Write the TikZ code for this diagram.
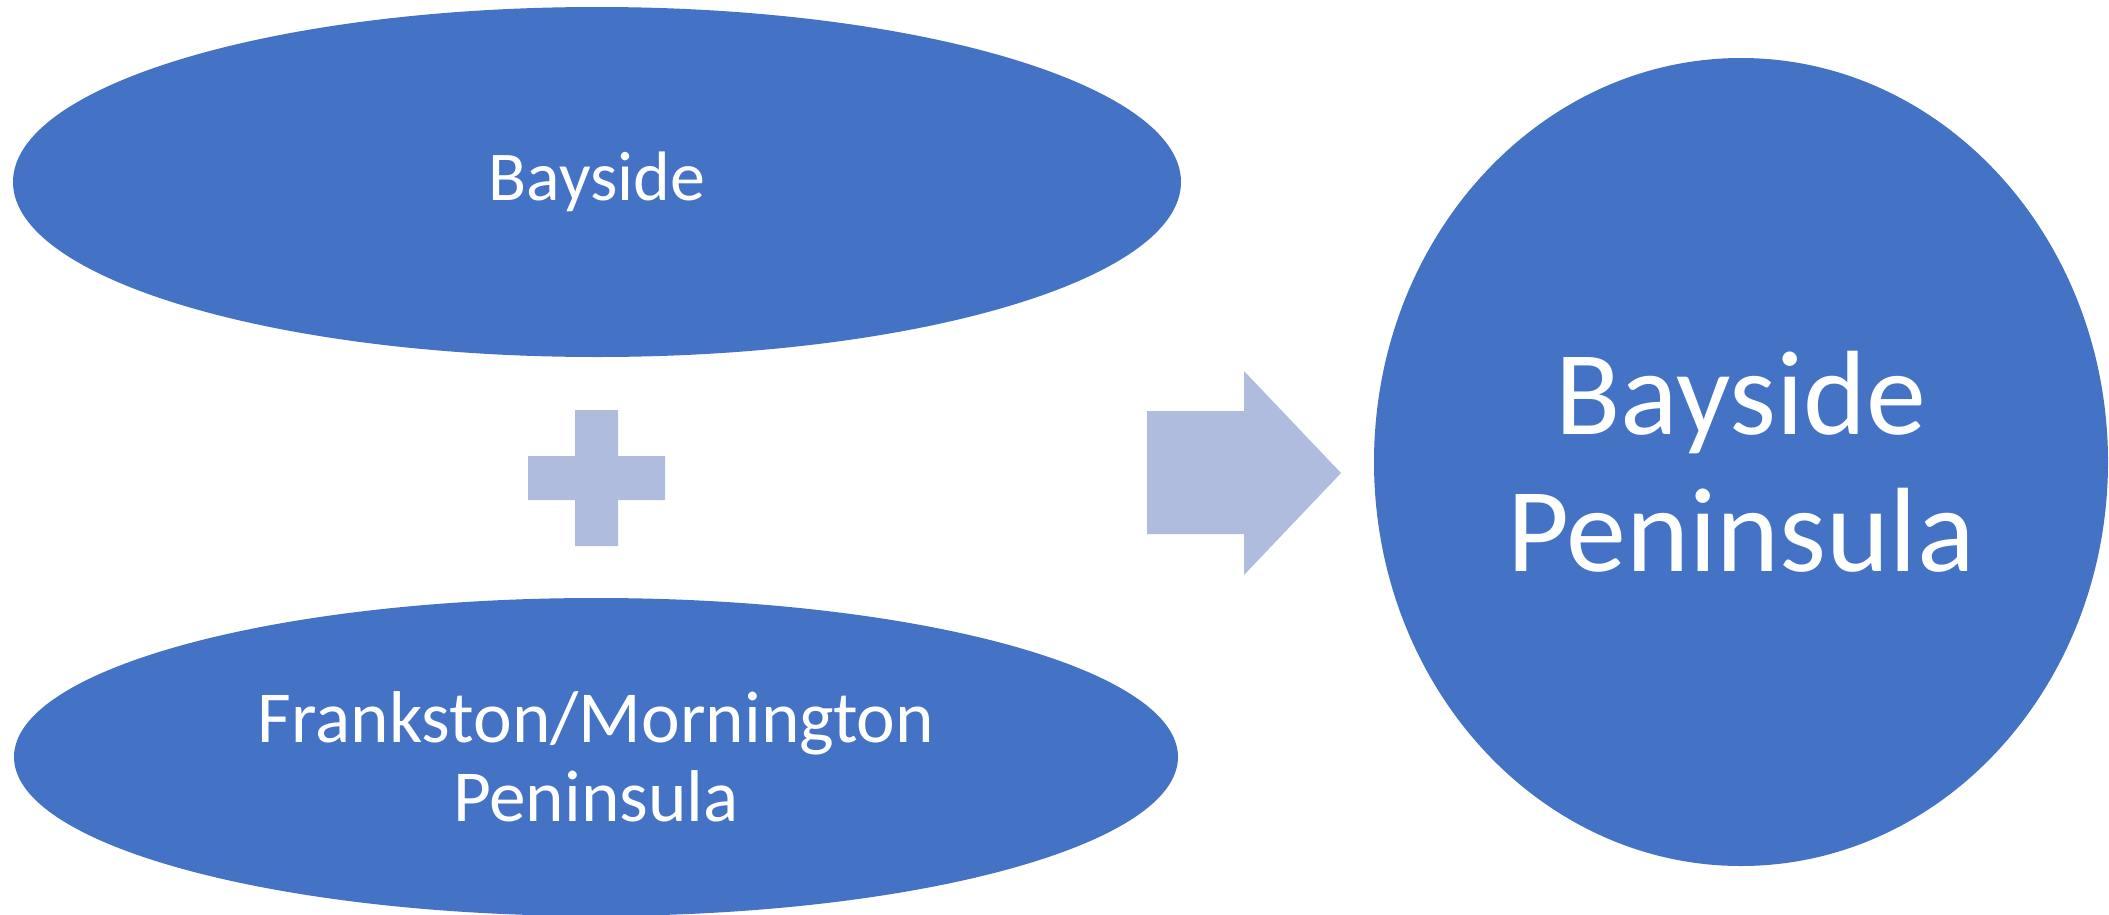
\documentclass[tikz,border=0pt]{standalone}
\usepackage{fontspec}
\setmainfont{Carlito}
\usetikzlibrary{shapes.geometric}
\definecolor{regionblue}{RGB}{68,114,196}
\definecolor{joinblue}{RGB}{175,188,221}

\begin{document}
\begin{tikzpicture}[x=0.75pt,y=0.75pt,yscale=-1,xscale=1,
    region/.style={ellipse,fill=regionblue,text=white,inner sep=0pt,align=center},
    smalltext/.style={font=\fontsize{52.5}{59.25}\selectfont},
    bigtext/.style={font=\fontsize{90}{102.75}\selectfont}]

            \useasboundingbox (0,0) rectangle (2109,914);

            % Ellipses
            \node [region,smalltext,minimum width=876pt,minimum height=262.5pt] (bayside) at (597,182) {Bayside};
            \node [region,font=\fontsize{55}{59.25}\selectfont,minimum width=873pt,minimum height=238.5pt] (frankston) at (596,757) {Frankston/Mornington\\Peninsula};
            % Result
            \node [region,bigtext,minimum width=550.5pt,minimum height=606pt] (merged) at (1741,462) {Bayside\\Peninsula};

            % Plus
            \fill [joinblue] (575,410) -- (618,410) -- (618,456) -- (665,456) -- (665,500) -- (618,500)
                -- (618,546) -- (575,546) -- (575,500) -- (528,500) -- (528,456) -- (575,456) -- cycle;
            % Arrow
            \fill [joinblue] (1147,411) -- (1244,411) -- (1244,371) -- (1341,473) -- (1244,575)
                -- (1244,534) -- (1147,534) -- cycle;

        \end{tikzpicture}
\end{document}
